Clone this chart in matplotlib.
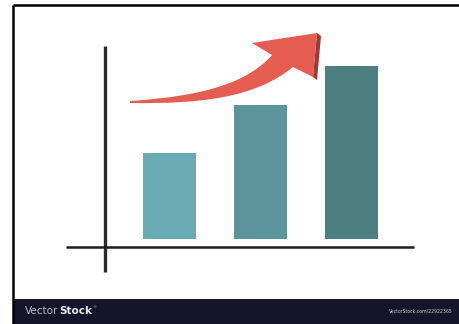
import numpy as np
import matplotlib
matplotlib.use("Agg")
import matplotlib.pyplot as plt
from matplotlib.path import Path
from matplotlib.patches import PathPatch, Rectangle

# bar values (pixel heights above the baseline)
categories = ["A", "B", "C"]
values = [86, 134, 173]
bar_colors = ["#6aaab2", "#5b959b", "#4c7e82"]

W, H = 459, 324

fig = plt.figure(figsize=(W / 100, H / 100), dpi=100, facecolor="white")
ax = fig.add_axes([0, 0, 1, 1])
ax.set_xlim(0, W)
ax.set_ylim(0, H)
ax.axis("off")


def Y(y):
    # image rows (top down) -> axis coords (bottom up)
    return H - y


# frame: top and left edges only
ax.plot([12.5, W], [Y(5), Y(5)], color="black", lw=1.8, solid_capstyle="butt")
ax.plot([12.5, 12.5], [Y(5), 0], color="black", lw=1.8, solid_capstyle="butt")
# watermark bar
ax.add_patch(Rectangle((13.5, 0), W - 13.5, Y(299), fc="#14152a", ec="none"))

fig.canvas.draw()
r = fig.canvas.get_renderer()
t1 = ax.text(25, Y(311), "Vector", color="#b9bac4", fontsize=7.5, va="center", ha="left")
bb = t1.get_window_extent(r)
t2 = ax.annotate("Stock", xy=(1, 0.5), xycoords=t1, xytext=(0.3, 0), textcoords="offset points",
                 color="#e8e8ee", fontsize=7.5, va="center", ha="left", fontweight="bold")
ax.annotate("®", xy=(1, 0.9), xycoords=t2, xytext=(0.8, 0), textcoords="offset points",
            color="#b9bac4", fontsize=3, va="center", ha="left")
ax.text(453, Y(311), "VectorStock.com/22922365", color="#c9cad2", fontsize=3.3,
        va="center", ha="right")

# bars
baseline = Y(239)
centers = [169.5, 260, 351.5]
ax.bar(centers, values, width=53, bottom=baseline, color=bar_colors, ec="none")

# axes lines
ax.plot([105, 105], [Y(46), Y(272)], color="#2b2b2b", lw=2.4, solid_capstyle="butt")
ax.plot([66, 414], [Y(247), Y(247)], color="#1e1e1e", lw=1.8, solid_capstyle="butt")

# curved arrow
verts = [
    (130, 101),             # tail
    (210, 96), (250, 80),   # top edge curve
    (272, 55),              # notch top
    (252, 43),              # left barb
    (317, 33),              # tip
    (313, 77),              # right barb
    (293, 67),              # notch bottom
    (255, 98), (200, 104),  # bottom edge curve
    (130, 103),             # back to tail
    (130, 101),
]
codes = [Path.MOVETO, Path.CURVE4, Path.CURVE4, Path.CURVE4,
         Path.LINETO, Path.LINETO, Path.LINETO, Path.LINETO,
         Path.CURVE4, Path.CURVE4, Path.CURVE4, Path.CLOSEPOLY]
shadow = [
    (317, 33), (321, 36), (317, 80), (313, 77), (317, 33),
]
ax.add_patch(PathPatch(Path([(x, Y(y)) for x, y in shadow]), fc="#9e3a33", ec="none"))
ax.add_patch(PathPatch(Path([(x, Y(y)) for x, y in verts], codes),
                       fc="#e45d50", ec="none"))

fig.savefig("out.png", dpi=100, facecolor="white")
